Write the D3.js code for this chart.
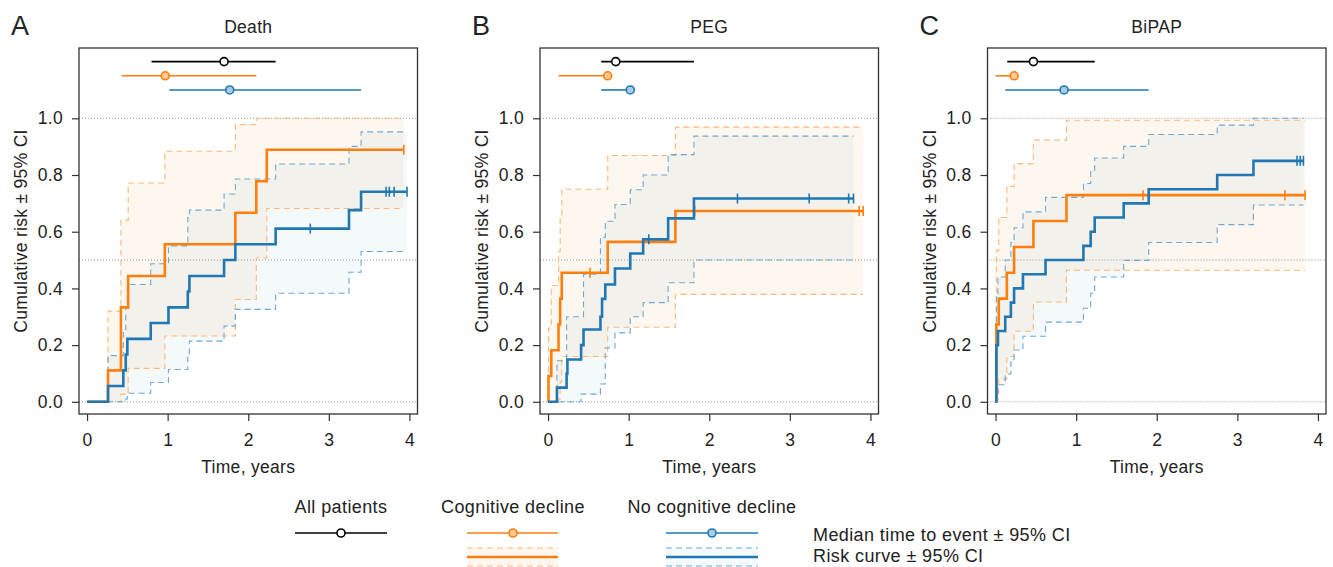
<!DOCTYPE html>
<html>
<head>
<meta charset="utf-8">
<script src="https://cdn.jsdelivr.net/npm/d3@7"></script>
<style>
  body { margin: 0; background: #fff; }
  svg { display: block; font-family: "Liberation Sans", Arial, sans-serif; }
</style>
</head>
<body>
<svg id="chart" width="1333" height="567"></svg>
<script>
// Data
const panelTitles = ["Death", "PEG", "BiPAP"];
const panelLetters = ["A", "B", "C"];
const xTicks = [0, 1, 2, 3, 4];
const yTicks = [0, 0.2, 0.4, 0.6, 0.8, 1.0];
const refLines = [0, 0.5, 1.0];

// median time to event [low CI, median, high CI], per panel
const medianAll   = [[0.80, 1.70, 2.34], [0.66, 0.84, 1.81], [0.145, 0.47, 1.23]];
const medianCog   = [[0.43, 0.97, 2.10], [0.13, 0.74, 0.74], [0.0, 0.23, 0.23]];
const medianNoCog = [[1.02, 1.77, 3.40], [0.66, 1.02, 1.02], [0.12, 0.85, 1.90]];

// Death - cognitive decline
const deathCogTime   = [0.26, 0.42, 0.51, 0.965, 1.84, 2.10, 2.23];
const deathCogRisk   = [0.111, 0.333, 0.444, 0.556, 0.667, 0.778, 0.889];
const deathCogLo     = [0, 0.027, 0.118, 0.232, 0.361, 0.507, 0.682];
const deathCogHi     = [0.32, 0.64, 0.772, 0.884, 0.978, 1.0, 1.0];
const deathCogCensor = [3.93];
// Death - no cognitive decline
const deathNoTime   = [0.26, 0.45, 0.48, 0.50, 0.79, 1.01, 1.25, 1.27, 1.70, 1.84, 2.34, 3.25, 3.40];
const deathNoRisk   = [0.056, 0.111, 0.167, 0.222, 0.278, 0.333, 0.389, 0.444, 0.5, 0.556, 0.611, 0.676, 0.741];
const deathNoLo     = [0, 0, 0.01, 0.03, 0.068, 0.114, 0.16, 0.214, 0.267, 0.326, 0.383, 0.457, 0.53];
const deathNoHi     = [0.163, 0.255, 0.33, 0.414, 0.487, 0.55, 0.65, 0.676, 0.733, 0.786, 0.839, 0.901, 0.952];
const deathNoCensor = [2.77, 3.71, 3.75, 3.81, 3.97];

// PEG - cognitive decline
const pegCogTime   = [0.005, 0.04, 0.13, 0.15, 0.17, 0.74, 1.58];
const pegCogRisk   = [0.091, 0.182, 0.273, 0.364, 0.455, 0.564, 0.673];
const pegCogLo     = [0, 0, 0.01, 0.07, 0.16, 0.263, 0.379];
const pegCogHi     = [0.26, 0.41, 0.53, 0.65, 0.75, 0.869, 0.969];
const pegCogCensor = [0.52, 1.82, 3.86, 3.91];
// PEG - no cognitive decline
const pegNoTime   = [0.11, 0.23, 0.24, 0.41, 0.44, 0.65, 0.67, 0.71, 0.83, 1.02, 1.18, 1.49, 1.81];
const pegNoRisk   = [0.05, 0.10, 0.149, 0.20, 0.255, 0.30, 0.363, 0.414, 0.47, 0.523, 0.573, 0.647, 0.717];
const pegNoLo     = [0, 0, 0, 0.027, 0.027, 0.063, 0.063, 0.19, 0.243, 0.30, 0.35, 0.42, 0.50];
const pegNoHi     = [0.145, 0.30, 0.30, 0.30, 0.45, 0.58, 0.58, 0.637, 0.696, 0.748, 0.80, 0.872, 0.937];
const pegNoCensor = [1.25, 2.35, 3.24, 3.73, 3.79];

// BiPAP - cognitive decline
const bipapCogTime   = [0.01, 0.04, 0.14, 0.23, 0.47, 0.88];
const bipapCogRisk   = [0.273, 0.364, 0.455, 0.546, 0.638, 0.729];
const bipapCogLo     = [0.03, 0.08, 0.16, 0.249, 0.352, 0.464];
const bipapCogHi     = [0.534, 0.65, 0.76, 0.84, 0.923, 0.993];
const bipapCogCensor = [1.83, 3.59, 3.84];
// BiPAP - no cognitive decline
const bipapNoTime   = [0.01, 0.03, 0.12, 0.19, 0.23, 0.34, 0.62, 1.09, 1.18, 1.23, 1.59, 1.90, 2.75, 3.20];
const bipapNoRisk   = [0.20, 0.25, 0.30, 0.35, 0.40, 0.45, 0.50, 0.55, 0.60, 0.65, 0.70, 0.75, 0.80, 0.85];
const bipapNoLo     = [0.01, 0.06, 0.098, 0.14, 0.183, 0.231, 0.281, 0.33, 0.383, 0.44, 0.499, 0.562, 0.625, 0.694];
const bipapNoHi     = [0.373, 0.44, 0.50, 0.562, 0.614, 0.67, 0.721, 0.77, 0.817, 0.86, 0.901, 0.943, 0.976, 1.0];
const bipapNoCensor = [3.74, 3.78, 3.82];

// colours
const colAll = "#000000";
const colCog = "#ff7f0e";
const colNo = "#1f77b4";
const style = {
  cog: { line: colCog, dash: "#ffb877", fill: "rgba(240,150,50,0.075)", dot: "#ffc894" },
  no:  { line: colNo,  dash: "#6fa9d3", fill: "rgba(60,150,190,0.055)", dot: "#a9cce6" }
};

function group(time, risk, lo, hi, censor) {
  return { time, risk, lo, hi, censor };
}

const panels = [
  { left: 79, cog: group(deathCogTime, deathCogRisk, deathCogLo, deathCogHi, deathCogCensor),
    no: group(deathNoTime, deathNoRisk, deathNoLo, deathNoHi, deathNoCensor) },
  { left: 540, cog: group(pegCogTime, pegCogRisk, pegCogLo, pegCogHi, pegCogCensor),
    no: group(pegNoTime, pegNoRisk, pegNoLo, pegNoHi, pegNoCensor) },
  { left: 987.5, cog: group(bipapCogTime, bipapCogRisk, bipapCogLo, bipapCogHi, bipapCogCensor),
    no: group(bipapNoTime, bipapNoRisk, bipapNoLo, bipapNoHi, bipapNoCensor) }
];

const boxW = 338.5, boxTop = 48, boxBottom = 414;
const fs = 17.5;
const ls = "0.3px";

const svg = d3.select("#chart");
const y = d3.scaleLinear().domain([-0.043, 1.248]).range([boxBottom, boxTop]);

panels.forEach((p, pi) => {
  const x = d3.scaleLinear().domain([-0.1, 4.1]).range([p.left, p.left + boxW]);
  const g = svg.append("g");

  // step data for one group
  function steps(gr) {
    const n = gr.time.length;
    const end = d3.max(gr.censor);
    const pts = [{ t: 0, r: 0, lo: 0, hi: 0 }];
    gr.time.forEach((t, i) => pts.push({ t, r: gr.risk[i], lo: gr.lo[i], hi: gr.hi[i] }));
    pts.push({ t: end, r: gr.risk[n - 1], lo: gr.lo[n - 1], hi: gr.hi[n - 1] });
    return pts;
  }
  const riskAt = (gr, t) => {
    let r = 0;
    gr.time.forEach((tt, i) => { if (tt <= t) r = gr.risk[i]; });
    return r;
  };

  const area = d3.area().curve(d3.curveStepAfter)
    .x(d => x(d.t)).y0(d => y(d.lo)).y1(d => y(d.hi));
  const line = key => d3.line().curve(d3.curveStepAfter).x(d => x(d.t)).y(d => y(d[key]));

  // CI fills
  ["cog", "no"].forEach(k => {
    g.append("path").attr("d", area(steps(p[k]))).attr("fill", style[k].fill);
  });

  // reference lines
  g.selectAll(".ref").data(refLines).join("line")
    .attr("x1", x.range()[0]).attr("x2", x.range()[1])
    .attr("y1", d => y(d)).attr("y2", d => y(d))
    .attr("stroke", "#777").attr("stroke-width", 0.8).attr("stroke-dasharray", "1,2");

  // CI dashed bounds
  ["cog", "no"].forEach(k => {
    const pts = steps(p[k]);
    ["lo", "hi"].forEach(b => {
      g.append("path").attr("d", line(b)(pts))
        .attr("fill", "none").attr("stroke", style[k].dash)
        .attr("stroke-width", 1.1).attr("stroke-dasharray", "6,4");
    });
  });

  // risk curves + censor marks
  ["cog", "no"].forEach(k => {
    const pts = steps(p[k]);
    g.append("path").attr("d", line("r")(pts))
      .attr("fill", "none").attr("stroke", style[k].line).attr("stroke-width", 2.6);
    g.selectAll(null).data(p[k].censor).join("line")
      .attr("x1", d => x(d)).attr("x2", d => x(d))
      .attr("y1", d => y(riskAt(p[k], d)) - 5).attr("y2", d => y(riskAt(p[k], d)) + 5)
      .attr("stroke", style[k].line).attr("stroke-width", 1.6);
  });

  // medians
  const meds = [
    { m: medianAll[pi], level: 1.2, col: colAll, fill: "#fff" },
    { m: medianCog[pi], level: 1.15, col: colCog, fill: style.cog.dot },
    { m: medianNoCog[pi], level: 1.1, col: colNo, fill: style.no.dot }
  ];
  meds.forEach(d => {
    g.append("line")
      .attr("x1", x(d.m[0])).attr("x2", x(d.m[2]))
      .attr("y1", y(d.level)).attr("y2", y(d.level))
      .attr("stroke", d.col).attr("stroke-width", 1.6);
    g.append("circle")
      .attr("cx", x(d.m[1])).attr("cy", y(d.level)).attr("r", 4)
      .attr("fill", d.fill).attr("stroke", d.col).attr("stroke-width", 1.6);
  });

  // box
  g.append("rect")
    .attr("x", x.range()[0]).attr("y", boxTop)
    .attr("width", boxW).attr("height", boxBottom - boxTop)
    .attr("fill", "none").attr("stroke", "#333").attr("stroke-width", 1.3);

  // axes
  const ay = g.append("g").attr("transform", `translate(${x.range()[0]},0)`)
    .call(d3.axisLeft(y).tickValues(yTicks).tickFormat(d3.format(".1f")).tickSize(7).tickPadding(9));
  const ax = g.append("g").attr("transform", `translate(0,${boxBottom})`)
    .call(d3.axisBottom(x).tickValues(xTicks).tickFormat(d3.format("d")).tickSize(7).tickPadding(13));
  [ax, ay].forEach(a => {
    a.select(".domain").remove();
    a.selectAll(".tick line").attr("stroke", "#333").attr("stroke-width", 1.2);
    a.selectAll(".tick text").attr("font-size", fs).attr("fill", "#222")
      .attr("letter-spacing", ls)
      .attr("font-family", "'Liberation Sans', Arial, sans-serif");
  });

  const cx = x.range()[0] + boxW / 2;
  g.append("text").attr("x", cx).attr("y", 473).attr("text-anchor", "middle")
    .attr("font-size", fs).attr("letter-spacing", ls).attr("fill", "#222").text("Time, years");
  g.append("text")
    .attr("transform", `translate(${x.range()[0] - 52},${(boxTop + boxBottom) / 2}) rotate(-90)`)
    .attr("text-anchor", "middle").attr("font-size", fs).attr("letter-spacing", ls).attr("fill", "#222")
    .text("Cumulative risk ± 95% CI");
  g.append("text").attr("x", cx).attr("y", 33).attr("text-anchor", "middle")
    .attr("font-size", fs).attr("letter-spacing", ls).attr("fill", "#222").text(panelTitles[pi]);
  g.append("text").attr("x", x.range()[0] - 68).attr("y", 35)
    .attr("font-size", 27).attr("fill", "#222").text(panelLetters[pi]);
});

// Legend
const lg = svg.append("g").attr("font-size", 18).attr("letter-spacing", "0.4px").attr("fill", "#222");
const legendItems = [
  { name: "All patients", cx: 341, x0: 295, x1: 387, col: colAll, fill: "#fff", ci: null },
  { name: "Cognitive decline", cx: 513, x0: 467, x1: 558, col: colCog, fill: style.cog.dot, ci: style.cog },
  { name: "No cognitive decline", cx: 712, x0: 666, x1: 758, col: colNo, fill: style.no.dot, ci: style.no }
];
legendItems.forEach(d => {
  lg.append("text").attr("x", d.cx).attr("y", 513).attr("text-anchor", "middle").text(d.name);
  lg.append("line").attr("x1", d.x0).attr("x2", d.x1).attr("y1", 533).attr("y2", 533)
    .attr("stroke", d.col).attr("stroke-width", 1.6);
  lg.append("circle").attr("cx", d.cx).attr("cy", 533).attr("r", 4)
    .attr("fill", d.fill).attr("stroke", d.col).attr("stroke-width", 1.6);
  if (d.ci) {
    lg.append("rect").attr("x", d.x0).attr("y", 548).attr("width", d.x1 - d.x0).attr("height", 18)
      .attr("fill", d.ci.fill);
    [548, 566].forEach(yy => lg.append("line").attr("x1", d.x0).attr("x2", d.x1)
      .attr("y1", yy).attr("y2", yy).attr("stroke", d.ci.dash).attr("stroke-width", 1.1)
      .attr("stroke-dasharray", "6,4"));
    lg.append("line").attr("x1", d.x0).attr("x2", d.x1).attr("y1", 557).attr("y2", 557)
      .attr("stroke", d.col).attr("stroke-width", 2.6);
  }
});
lg.append("text").attr("x", 813).attr("y", 541).text("Median time to event ± 95% CI");
lg.append("text").attr("x", 813).attr("y", 562).text("Risk curve ± 95% CI");
</script>
</body>
</html>
